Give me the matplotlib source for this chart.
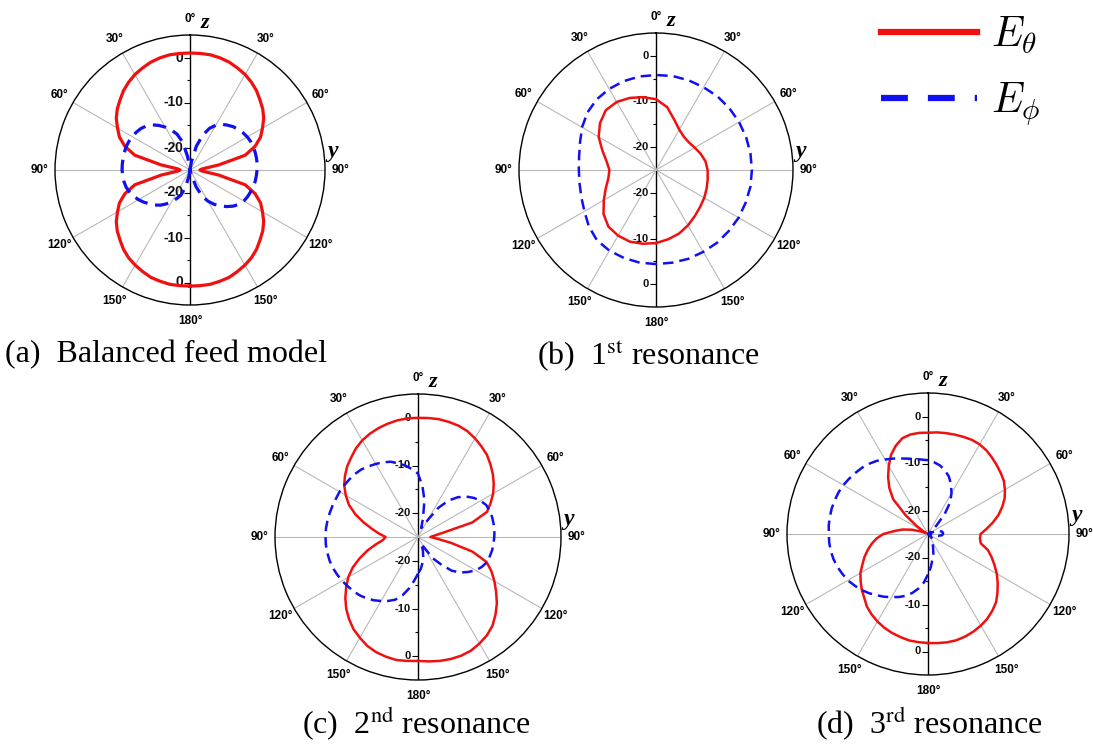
import numpy as np
import matplotlib.pyplot as plt
from matplotlib.lines import Line2D

plt.rcParams['mathtext.fontset'] = 'cm'

# angle from +z towards +y (deg)
ang5 = np.arange(-180, 181, 5)
ang10 = np.arange(-180, 181, 10)

# (a) balanced feed model, dB, 5 deg steps
a_theta = [0.8, 0.8, 0.8, 0.6, 0.4, -0.1, -0.6, -1.2, -2.0, -3.0, -3.9, -5.0, -6.4, -7.7,
           -9.6, -12.3, -18.5, -22.3, -22.8, -22.3, -18.5, -12.3, -9.6, -7.7, -6.4, -5.0,
           -3.9, -3.0, -2.0, -1.2, -0.5, 0.0, 0.5, 0.8, 1.0, 1.0, 1.0,
           1.0, 1.0, 0.8, 0.5, 0.0, -0.5, -1.2, -2.0, -3.0, -3.9, -5.0, -6.4, -7.7, -9.6,
           -12.3, -18.5, -22.3, -22.8, -22.3, -18.5, -12.3, -9.6, -7.7, -6.4, -5.0, -3.9,
           -3.0, -2.0, -1.2, -0.6, -0.1, 0.4, 0.6, 0.8, 0.8, 0.8]
a_phi = [-25.0, -25.0, -23.5, -21.0, -19.0, -18.0, -16.8, -15.8, -14.8, -14.0, -13.3, -12.5,
         -11.8, -11.2, -10.7, -10.3, -10.1, -10.0, -9.9, -9.9, -9.9, -9.9, -9.9, -10.0,
         -10.2, -10.4, -10.7, -11.2, -11.9, -12.9, -14.0, -15.2, -16.5, -18.5, -22.0,
         -25.0, -25.0,
         -25.0, -23.0, -19.5, -16.8, -14.8, -13.5, -12.6, -12.0, -11.4, -11.0, -10.6,
         -10.3, -10.1, -10.0, -10.0, -10.0, -10.0, -10.1, -10.2, -10.3, -10.5, -10.7,
         -10.9, -11.2, -11.7, -12.5, -13.5, -14.6, -15.7, -17.0, -18.5, -21.0, -24.0,
         -25.0, -25.0, -25.0]

# (b) 1st resonance, 10 deg steps
b_theta = [-9.0, -8.6, -8.3, -8.4, -8.8, -10.0, -11.8, -13.3, -14.4, -14.8, -14.0, -12.5,
           -10.5, -9.0, -7.9, -7.8, -8.2, -8.8, -9.5, -11.0, -13.3, -14.8, -15.5, -15.6,
           -15.2, -14.6, -14.0, -13.7, -13.5, -13.2, -12.8, -12.4, -11.8, -11.0, -10.2, -9.6, -9.0]
b_phi = [-4.4, -4.4, -4.5, -4.6, -4.9, -5.8, -6.9, -7.6, -8.0, -8.1, -7.9, -7.3, -6.3, -5.4,
         -4.8, -4.5, -4.3, -4.2, -4.2, -4.1, -4.1, -4.1, -4.0, -4.0, -4.0, -4.0, -4.0, -4.0,
         -4.0, -4.1, -4.1, -4.2, -4.2, -4.3, -4.3, -4.4, -4.4]

# (c) 2nd resonance, 5 deg steps
c_theta = [1.0, 1.1, 1.2, 1.0, 0.7, 0.2, -0.6, -1.4, -2.5, -3.7, -5.1, -6.6, -8.1, -9.9,
           -12.0, -14.0, -16.0, -17.6, -18.2, -16.8, -15.2, -13.2, -11.0, -9.0, -7.5, -6.1,
           -5.0, -4.0, -3.2, -2.3, -1.6, -1.1, -0.7, -0.4, -0.15, 0.0, 0.0,
           0.05, 0.1, 0.0, -0.15, -0.5, -1.1, -1.8, -2.5, -3.5, -4.5, -5.6, -6.8, -8.2,
           -9.6, -13.2, -19.5, -21.5, -22.4, -21.0, -18.0, -13.2, -9.7, -8.0, -6.5, -5.0,
           -3.4, -2.0, -0.7, 0.2, 0.8, 1.3, 1.5, 1.5, 1.4, 1.2, 1.0]
c_phi = [-17.3, -15.8, -14.0, -12.3, -11.0, -10.2, -9.5, -8.8, -8.2, -7.7, -7.3, -7.0, -6.6,
         -6.3, -6.0, -5.8, -5.7, -5.6, -5.6, -5.6, -5.7, -5.8, -5.9, -6.0, -6.0, -6.1,
         -6.2, -6.3, -6.5, -6.9, -7.3, -7.7, -8.2, -9.0, -9.8, -10.7, -11.7,
         -14.3, -17.2, -21.0, -23.0, -22.5, -20.8, -17.5, -15.0, -13.2, -11.8, -10.7,
         -9.8, -9.2, -9.0, -8.9, -8.9, -8.9, -9.0, -9.1, -9.2, -9.4, -9.6, -10.2, -11.0,
         -12.2, -13.4, -15.0, -17.5, -19.5, -22.5, -23.5, -22.0, -20.8, -19.5, -18.3, -17.3]

# (d) 3rd resonance, 5 deg steps
d_theta = [-1.8, -1.9, -2.0, -2.3, -2.6, -3.0, -3.5, -4.1, -4.8, -5.8, -6.6, -7.5, -8.4,
           -9.6, -10.6, -11.7, -12.8, -14.0, -15.5, -17.8, -19.5, -21.5, -23.5, -24.5,
           -24.0, -22.0, -18.8, -14.5, -12.2, -10.2, -8.3, -6.4, -5.0, -3.9, -3.5, -3.4, -3.45,
           -3.3, -3.2, -3.1, -3.0, -2.9, -3.0, -3.3, -3.8, -4.3, -4.8, -5.3, -6.1, -7.0,
           -8.2, -9.5, -11.0, -12.5, -13.8, -13.9, -13.6, -11.8, -10.6, -9.4, -8.1, -6.9,
           -5.7, -4.5, -3.7, -3.0, -2.5, -2.1, -1.8, -1.6, -1.6, -1.7, -1.8]
d_phi = [-16.4, -14.6, -13.2, -12.0, -11.0, -10.2, -9.5, -8.7, -8.0, -7.2, -6.5, -5.9, -5.3,
         -4.9, -4.5, -4.2, -4.0, -3.9, -3.9, -3.8, -3.8, -3.8, -3.9, -4.0, -4.2, -4.5,
         -4.8, -5.1, -5.5, -6.0, -6.7, -7.3, -7.9, -8.4, -8.8, -9.1, -9.3,
         -9.7, -10.2, -11.0, -12.0, -13.4, -15.0, -16.8, -19.5, -22.5, -24.5, -25.0,
         -25.0, -24.5, -23.5, -22.5, -22.0, -21.8, -21.8, -22.0, -22.8, -23.8, -24.5,
         -25.0, -25.0, -25.0, -24.5, -24.0, -23.5, -23.0, -22.8, -22.6, -21.8, -20.6,
         -19.5, -18.0, -16.4]

r_major = [0, -10, -20]
r_minor = [-5, -15]
captions = ['(a)  Balanced feed model', r'(b)  1$^{\mathrm{st}}$ resonance',
            r'(c)  2$^{\mathrm{nd}}$ resonance', r'(d)  3$^{\mathrm{rd}}$ resonance']

W, H = 1093, 744
fig = plt.figure(figsize=(W / 100, H / 100), dpi=100)

RED = '#f01010'
BLUE = '#1010f0'


def polar_panel(cx, cy, R, ang, e_th, e_ph, lw, lab_size):
    ax = fig.add_axes([(cx - R) / W, 1 - (cy + R) / H, 2 * R / W, 2 * R / H],
                      projection='polar')
    ax.set_theta_zero_location('N')
    ax.set_theta_direction(-1)
    th = np.deg2rad(ang)
    ax.plot(th, e_th, color=RED, lw=lw, zorder=4)
    ax.plot(th, e_ph, color=BLUE, lw=lw, ls=(0, (4.2, 2.4)), zorder=4)
    ax.set_ylim(-25, 5)
    ax.set_yticks([])
    deg = np.arange(0, 360, 30)
    ax.set_thetagrids(deg, [f'{d if d <= 180 else 360 - d}°' for d in deg],
                      fontsize=8.5, fontweight='bold', family='Liberation Sans')
    ax.tick_params(axis='x', pad=1)
    ax.grid(color='#b8b8b8', lw=0.8)
    gl = ax.xaxis.get_gridlines()
    for i in (0, 6):
        gl[i].set_color('k')
        gl[i].set_linewidth(1.0)
    ax.spines['polar'].set_linewidth(1.0)

    # radial scale drawn on the vertical axis
    for t in (0, np.pi):
        ax.plot(np.full(len(r_major), t), r_major, ls='none', marker=0, ms=4,
                mew=0.8, color='k', clip_on=False)
        ax.plot(np.full(len(r_minor), t), r_minor, ls='none', marker=0, ms=2.5,
                mew=0.8, color='k', clip_on=False)
        for v in r_major:
            ax.annotate(str(v), xy=(t, v), xytext=(-5, 0), textcoords='offset points',
                        ha='right', va='center', fontsize=lab_size, fontweight='bold',
                        family='Liberation Sans', color='#111111')

    ax.annotate('z', xy=(0, 5), xytext=(8, 5), textcoords='offset points', ha='left',
                va='baseline', fontsize=16, family='Liberation Serif', style='italic',
                weight='bold')
    ax.annotate('y', xy=(np.pi / 2, 5), xytext=(2, 9), textcoords='offset points',
                ha='left', va='baseline', fontsize=17, family='Liberation Serif',
                style='italic', weight='bold')
    return ax


polar_panel(190, 170, 135, ang5, a_theta, a_phi, 2.3, 10)
polar_panel(656, 170, 137, ang10, b_theta, b_phi, 1.8, 8)
polar_panel(418, 537, 143, ang5, c_theta, c_phi, 1.8, 8)
polar_panel(928, 534, 141, ang5, d_theta, d_phi, 1.8, 8)

cap = dict(fontsize=23, family='Liberation Serif', math_fontfamily='stix', va='center')
fig.text(5 / W, 1 - 355 / H, captions[0], ha='left', **cap)
fig.text(537 / W, 1 - 355 / H, captions[1], ha='left', **cap)
fig.text(416 / W, 1 - 723 / H, captions[2], ha='center', **cap)
fig.text(929 / W, 1 - 723 / H, captions[3], ha='center', **cap)

handles = [Line2D([], [], color=RED, lw=4.5),
           Line2D([], [], color=BLUE, lw=4.5, ls=(0, (4.3, 3.2, 4.3, 3.2, 1, 3.2)))]
fig.legend(handles, [r'$E_\theta$', r'$E_\phi$'], loc='upper left',
           bbox_to_anchor=(860 / W, 1 + 7 / H), frameon=False, fontsize=30,
           handlelength=2.3, handletextpad=0.35, labelspacing=0.57, borderpad=0)

fig.savefig('out.png', dpi=100, facecolor='white')
